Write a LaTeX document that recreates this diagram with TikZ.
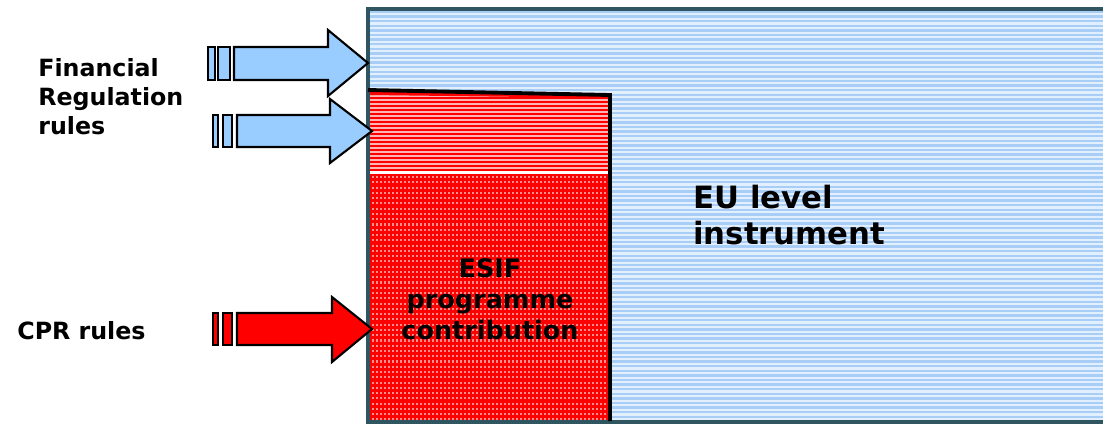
\documentclass[tikz,border=0pt]{standalone}
\usepackage{fontspec}
\setmainfont{DejaVu Sans}
\usetikzlibrary{positioning}

\definecolor{arrowblue}{HTML}{99CCFF}
\definecolor{stripeblue}{HTML}{A8CDF7}
\definecolor{paleblue}{HTML}{E2EFFD}
\definecolor{boxedge}{HTML}{2F5561}
\definecolor{esifred}{HTML}{FF0000}
\definecolor{palered}{HTML}{FFB4B4}

\tikzset{
	label text/.style = {font=\fontsize{13.5}{16.5}\selectfont\bfseries, align=left, inner sep=0pt},
	box text/.style = {font=\fontsize{14.5}{17.5}\selectfont\bfseries, align=center, inner sep=0pt},
	big text/.style = {font=\fontsize{17.5}{21}\selectfont\bfseries, align=left, inner sep=0pt},
	arrow body/.style = {draw=black, line width=1.2pt, line join=miter}
}

\begin{document}
\begin{tikzpicture}[x=0.02cm, y=-0.02cm]
	\useasboundingbox (0,0) rectangle (1103,424);
	\clip (0,0) rectangle (1103,424);

	% EU level instrument
	\fill[paleblue] (368,9) rectangle (1110,422);
	\foreach \y in {12,16.6,...,420}
		\draw[stripeblue, line width=1.3pt] (370,\y)--(1110,\y);

	% ESIF programme contribution
	\fill[palered] (370,91)--(609,96)--(609,172)--(370,172)--cycle;
	\foreach \y in {98,102,...,170}
		\draw[esifred, line width=1.2pt] (370,\y)--(609,\y);
	\fill[esifred] (370,91)--(609,96)--(609,98)--(370,95)--cycle;
	\fill[white] (370,171) rectangle (609,174);
	\fill[esifred] (370,174) rectangle (609,421);
	\foreach \x in {373,377,...,607}
		\draw[white!55!esifred, line width=0.7pt, dash pattern=on 1.2pt off 1.8pt] (\x,176)--(\x,420);

	\draw[boxedge, line width=1.9pt] (1110,9)--(368,9)--(368,422)--(1110,422);
	\draw[black, line width=2.2pt] (368,90)--(610,95)--(610,421);

	% incoming arrows
	\draw[arrow body, fill=arrowblue] (208,47) rectangle (215,80);
	\draw[arrow body, fill=arrowblue] (218,47) rectangle (230,80);
	\draw[arrow body, fill=arrowblue] (234,47)--(328,47)--(328,30)--(368,63)--(328,96)--(328,80)--(234,80)--cycle;

	\draw[arrow body, fill=arrowblue] (213,115) rectangle (218,147);
	\draw[arrow body, fill=arrowblue] (223,115) rectangle (232,147);
	\draw[arrow body, fill=arrowblue] (237,115)--(330,115)--(330,99)--(372,131)--(330,163)--(330,147)--(237,147)--cycle;

	\draw[arrow body, fill=esifred] (213,313) rectangle (218,345);
	\draw[arrow body, fill=esifred] (223,313) rectangle (232,345);
	\draw[arrow body, fill=esifred] (237,313)--(332,313)--(332,297)--(372,329)--(332,362)--(332,345)--(237,345)--cycle;

	% labels
	\node[label text, anchor=west] (finreg) at (38,97) {Financial\\Regulation\\rules};
	\node[label text, anchor=west] (cpr) at (17,331) {CPR rules};
	\node[big text, anchor=west] (eulevel) at (693,215) {EU level\\instrument};
	\node[box text] (esif) at (490,299) {ESIF\\programme\\contribution};
\end{tikzpicture}
\end{document}
